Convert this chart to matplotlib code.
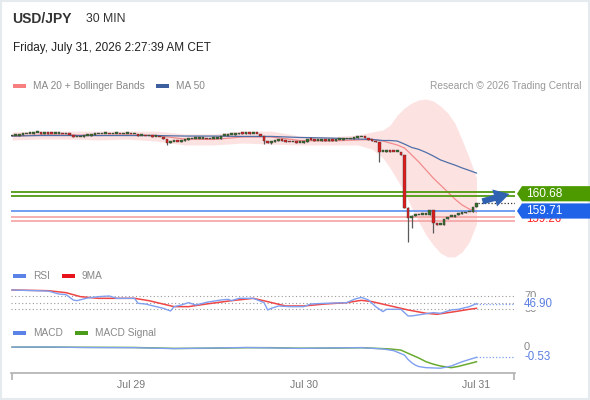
import matplotlib
matplotlib.use('Agg')
import matplotlib.pyplot as plt
from matplotlib.patches import Rectangle, Polygon, FancyArrowPatch
from matplotlib.transforms import blended_transform_factory

plt.rcParams['font.family'] = ['Liberation Sans', 'DejaVu Sans']

# ---------------------------------------------------------------- data
# 30 min closes, USD/JPY (bar 33 = Jul 29 00:00, 81 = Jul 30, 129 = Jul 31)
closes = [163.92, 163.95, 163.98, 164.01, 164.04, 164.06, 164.09,
          164.09, 164.06, 164.09, 164.06, 164.04, 164.04, 164.04, 164.01, 164.04,
          163.98, 163.84, 163.84, 163.87, 163.92, 163.95, 163.98, 164.01,
          164.01, 164.04, 164.04, 164.01, 164.04, 164.04, 164.01, 164.04, 164.04, 164.01, 164.01,
          163.92, 163.92, 163.90, 163.90, 163.87, 163.87, 163.84,
          163.73, 163.53, 163.59, 163.61, 163.59, 163.64, 163.70, 163.73, 163.75, 163.75,
          163.75, 163.75, 163.73, 163.75, 163.78, 163.78,
          163.92, 163.95, 163.98, 163.98, 164.01, 164.09, 164.06, 164.09, 164.06, 164.06, 164.04, 163.92,
          163.64, 163.53, 163.61, 163.67, 163.70, 163.64, 163.59, 163.56, 163.56, 163.53, 163.53, 163.56,
          163.73, 163.70, 163.67, 163.67, 163.70, 163.67, 163.70, 163.67, 163.70, 163.70, 163.73, 163.73,
          163.78, 163.81, 163.84, 163.87, 163.81, 163.70, 163.67, 163.56, 163.02, 163.02, 163.11, 163.05,
          163.02, 163.02, 162.88, 159.88, 159.32, 159.43, 159.46, 159.49, 159.49, 159.51, 159.79, 159.04,
          158.92, 158.95, 159.26, 159.37, 159.40, 159.49, 159.54, 159.57, 159.63, 159.65, 159.91, 160.16]
first_open = 163.90
# bars with visible wicks: bar -> (high, low)
wicks = {43: (163.73, 163.42), 70: (163.92, 163.47), 72: (163.61, 163.45),
         102: (163.56, 162.46), 110: (159.93, 157.97), 111: (159.46, 158.75),
         117: (159.79, 158.47)}

# MA 20, Bollinger bands and MA 50 (sampled)
ind_bars = [0, 8, 16, 24, 32, 40, 48, 56, 64, 72, 80, 88, 96, 100, 103, 105, 107,
            109, 111, 113, 115, 117, 119, 121, 123, 125, 127, 129]
ma20 = [163.92, 163.98, 163.98, 163.95, 163.98, 163.95, 163.75, 163.73, 163.87, 163.87,
        163.67, 163.64, 163.70, 163.73, 163.64, 163.53, 163.42, 163.25, 162.86, 162.46,
        162.01, 161.56, 161.17, 160.78, 160.38, 160.05, 159.82, 159.65]
bb_up = [164.15, 164.20, 164.20, 164.20, 164.20, 164.20, 164.04, 164.04, 164.20, 164.20,
         163.92, 163.87, 163.98, 164.15, 164.26, 164.54, 165.10, 165.50, 165.78, 165.95,
         166.00, 165.89, 165.61, 165.22, 164.65, 163.70, 162.69, 161.56]
bb_low = [163.70, 163.75, 163.75, 163.70, 163.75, 163.64, 163.42, 163.42, 163.53, 163.47,
          163.42, 163.42, 163.42, 163.19, 162.69, 162.13, 161.45, 160.78, 159.88, 159.09,
          158.36, 157.80, 157.35, 157.13, 157.13, 157.41, 157.97, 158.98]
ma50 = [163.92, 163.95, 163.95, 163.95, 163.95, 163.95, 163.92, 163.92, 163.90, 163.90,
        163.84, 163.81, 163.75, 163.73, 163.67, 163.67, 163.64, 163.47, 163.28, 163.17,
        163.00, 162.80, 162.58, 162.43, 162.29, 162.13, 161.99, 161.84]

resistance = 160.68
pivot = 159.71
support = 159.26

rsi_bars = [0, 10, 13, 15, 17, 18, 21, 24, 27, 29, 34, 35, 37, 40, 42, 44, 45, 47, 49, 51,
            53, 54, 58, 60, 61, 63, 67, 70, 71, 72, 74, 77, 81, 83, 87, 93, 95, 97, 99, 101,
            103, 104, 108, 110, 111, 114, 117, 119, 122, 124, 127, 129]
rsi = [88, 85, 76, 74, 58, 56, 64, 68, 70, 63, 63, 48, 46, 38, 33, 25, 38, 43, 50, 43,
       48, 51, 58, 60, 56, 63, 63, 50, 28, 33, 40, 38, 38, 46, 48, 50, 60, 66, 58, 38,
       23, 30, 30, 10, 10, 15, 20, 18, 28, 30, 38, 46.9]
ma9_bars = [0, 10, 15, 19, 24, 34, 38, 45, 49, 54, 61, 67, 71, 76, 81, 87, 93, 97, 100, 106,
            110, 115, 118, 123, 127, 129]
rsi_ma9 = [88, 86, 80, 68, 63, 63, 56, 38, 38, 46, 56, 63, 53, 40, 40, 46, 50, 57, 53, 38,
           28, 18, 15, 23, 30, 33]

macd_bars = [0, 10, 20, 34, 45, 55, 65, 72, 80, 90, 97, 103, 106, 109, 110, 111, 112, 113,
             115, 119, 122, 125, 129]
macd = [0.02, 0.03, 0.0, -0.01, -0.06, -0.03, 0.0, -0.02, -0.05, -0.02, -0.01, -0.08, -0.17,
        -0.41, -0.65, -0.82, -0.95, -1.03, -1.09, -1.12, -1.0, -0.77, -0.53]
sig_bars = [0, 10, 20, 34, 45, 55, 65, 72, 80, 90, 97, 105, 108, 111, 113, 115, 117, 119,
            122, 124, 126, 129]
macd_sig = [0.02, 0.02, 0.01, 0.0, -0.05, -0.04, -0.01, -0.01, -0.04, -0.03, -0.01, -0.08,
            -0.14, -0.40, -0.57, -0.77, -0.90, -1.00, -1.09, -1.02, -0.92, -0.77]

day_bars = [33, 81, 129]
day_labels = ['Jul 29', 'Jul 30', 'Jul 31']

# ---------------------------------------------------------------- figure
W, H = 590, 400
fig = plt.figure(figsize=(W / 100, H / 100), dpi=100)
fig.patch.set_facecolor('white')
XMIN, XMAX = -0.3, 139.7


def add_ax(x0, y0, x1, y1):
    ax = fig.add_axes([x0 / W, 1 - y1 / H, (x1 - x0) / W, (y1 - y0) / H])
    ax.set_facecolor('none')
    for s in ax.spines.values():
        s.set_visible(False)
    ax.set_xticks([])
    ax.set_yticks([])
    ax.set_xlim(XMIN, XMAX)
    return ax


# header
fig.text(12 / W, 1 - 19 / H, 'USD/JPY', fontsize=10, fontweight='bold', color='#333333', va='center')
fig.text(86 / W, 1 - 19 / H, '30 MIN', fontsize=8.8, color='#333333', va='center')
fig.text(13 / W, 1 - 48 / H, 'Friday, July 31, 2026 2:27:39 AM CET', fontsize=8.5,
         color='#222222', va='center')


def legend_item(x, y, color, label):
    fig.add_artist(Rectangle((x / W, 1 - (y + 2.3) / H), 13 / W, 4.6 / H,
                             transform=fig.transFigure, color=color, lw=0))
    fig.text((x + 20) / W, 1 - y / H, label, fontsize=7.3, color='#888888', va='center')


legend_item(13, 86, '#f77f7f', 'MA 20 + Bollinger Bands')
legend_item(156, 86, '#3d5f9e', 'MA 50')
fig.text(581 / W, 1 - 86 / H, 'Research \u00a9 2026 Trading Central', fontsize=7.3,
         color='#999999', va='center', ha='right')
legend_item(13, 276, '#5b82e6', 'RSI')
legend_item(62, 276, '#e8141b', '9MA')
legend_item(13, 333, '#5b82e6', 'MACD')
legend_item(75, 333, '#4a9c1a', 'MACD Signal')

# ---------------------------------------------------------------- price panel
ax = add_ax(11, 90, 515, 270)
ymin, ymax = 156.395, 166.508
ax.set_ylim(ymin, ymax)
ppu = 180 / (ymax - ymin)

ax.fill_between(ind_bars, bb_low, bb_up, color='#fde2e2', lw=0, zorder=1)
ax.plot(ind_bars, ma20, color='#f28b8b', lw=0.9, zorder=2)
ax.plot(ind_bars, ma50, color='#4f6fa8', lw=0.9, zorder=2)

g = 2.2 / ppu
for lv in (resistance - g, resistance + g):
    ax.axhline(lv, color='#4e9a10', lw=1.3, zorder=2)
ax.axhline(pivot, color='#5b8ff0', lw=1.2, zorder=2)
r = 1.8 / ppu
for lv in (support - r, support + r):
    ax.axhline(lv, color='#f5a3a3', lw=1.2, zorder=2)

n = len(closes)
opens = [first_open] + closes[:-1]
xs = list(range(n))
highs = [max(o, c) for o, c in zip(opens, closes)]
lows = [min(o, c) for o, c in zip(opens, closes)]
for b, (hi, lo) in wicks.items():
    highs[b] = hi
    lows[b] = lo
ax.vlines(xs, lows, highs, color='#5a5a5a', lw=0.9, zorder=3)
bottoms = [min(o, c) for o, c in zip(opens, closes)]
heights = [max(abs(c - o), 0.09) for o, c in zip(opens, closes)]
cols = ['#2f6f2a' if c >= o else '#dd1c1c' for o, c in zip(opens, closes)]
ax.bar(xs, heights, bottom=bottoms, width=0.75, color=cols, edgecolor='#4a3a3a', lw=0.3, zorder=4)

ax.hlines(closes[-1], n - 0.6, XMAX, colors='#333333', linestyles=(0, (1, 1.6)), lw=0.9, zorder=5)
ax.add_patch(FancyArrowPatch((n - 0.1, closes[-1] + 0.05), (XMAX - 0.8, resistance + 0.03),
                             arrowstyle='simple,head_length=1.0,head_width=1.15,tail_width=0.4',
                             mutation_scale=11, color='#2f62b0', lw=0, zorder=6, clip_on=False))

tr = blended_transform_factory(fig.transFigure, ax.transData)
fig.text(526 / W, support, '159.26', transform=tr, fontsize=8.3, color='#ff2020',
         va='center', zorder=8)


def tag(level, color, label):
    hh = 7.6 / ppu
    pts = [(517 / W, level), (522 / W, level + hh), (590 / W, level + hh),
           (590 / W, level - hh), (522 / W, level - hh)]
    fig.add_artist(Polygon(pts, closed=True, transform=tr, color=color, lw=0, zorder=10))
    fig.text(526 / W, level, label, transform=tr, fontsize=8.6, color='white',
             va='center', zorder=11)


tag(resistance, '#4c9a00', '160.68')
tag(pivot, '#1f63e8', '159.71')

# ---------------------------------------------------------------- RSI panel
axr = add_ax(11, 284, 515, 322)
axr.set_ylim(-8.2, 106.1)
for lv in (70, 50, 30):
    axr.axhline(lv, color='#9a9a9a', lw=0.8, linestyle=(0, (1, 2.2)), zorder=1)
axr.plot(rsi_bars, rsi, color='#7fa0f0', lw=1.0, zorder=3)
axr.plot(ma9_bars, rsi_ma9, color='#f04545', lw=1.1, zorder=2)
axr.hlines(rsi[-1], rsi_bars[-1], XMAX, colors='#7fa0f0', linestyles=(0, (1, 1.6)), lw=0.9)
trr = blended_transform_factory(axr.transAxes, axr.transData)
axr.text(1.018, 70, '70', transform=trr, fontsize=8, color='#888888', va='center')
axr.text(1.018, 30, '30', transform=trr, fontsize=8, color='#888888', va='center')
axr.text(1.018, rsi[-1], '%.2f' % rsi[-1], transform=trr, fontsize=8.3, color='#5b7fe0',
         va='center', bbox=dict(facecolor='white', edgecolor='none', pad=0.3))

# ---------------------------------------------------------------- MACD panel
axm = add_ax(11, 340, 515, 373)
axm.set_ylim(-1.378, 0.405)
axm.plot(sig_bars, macd_sig, color='#6aaa30', lw=1.1, zorder=2)
axm.plot(macd_bars, macd, color='#7fa0f0', lw=1.0, zorder=3)
axm.hlines(macd[-1], macd_bars[-1], XMAX, colors='#7fa0f0', linestyles=(0, (1, 1.6)), lw=0.9)
trm = blended_transform_factory(axm.transAxes, axm.transData)
axm.text(1.018, 0.05, '0', transform=trm, fontsize=8, color='#888888', va='center')
axm.text(1.018, macd[-1], '%.2f' % macd[-1], transform=trm, fontsize=8.3, color='#5b7fe0',
         va='center')

axm.spines['bottom'].set_visible(True)
axm.spines['bottom'].set_color('#b0b0b0')
axm.spines['bottom'].set_linewidth(1.2)
axm.set_xticks(day_bars)
axm.set_xticklabels(day_labels)
axm.set_xticks([XMIN + 0.15, XMAX - 0.15], minor=True)
axm.tick_params(axis='x', which='major', length=0, pad=5, labelsize=7.6, labelcolor='#777777')
axm.tick_params(axis='x', which='minor', length=5, width=1.2, color='#b0b0b0')

fig.add_artist(Rectangle((0, 0), 1, 1, transform=fig.transFigure, fill=False,
                         edgecolor='#e4eaee', lw=3))

fig.savefig('out.png', dpi=100)
